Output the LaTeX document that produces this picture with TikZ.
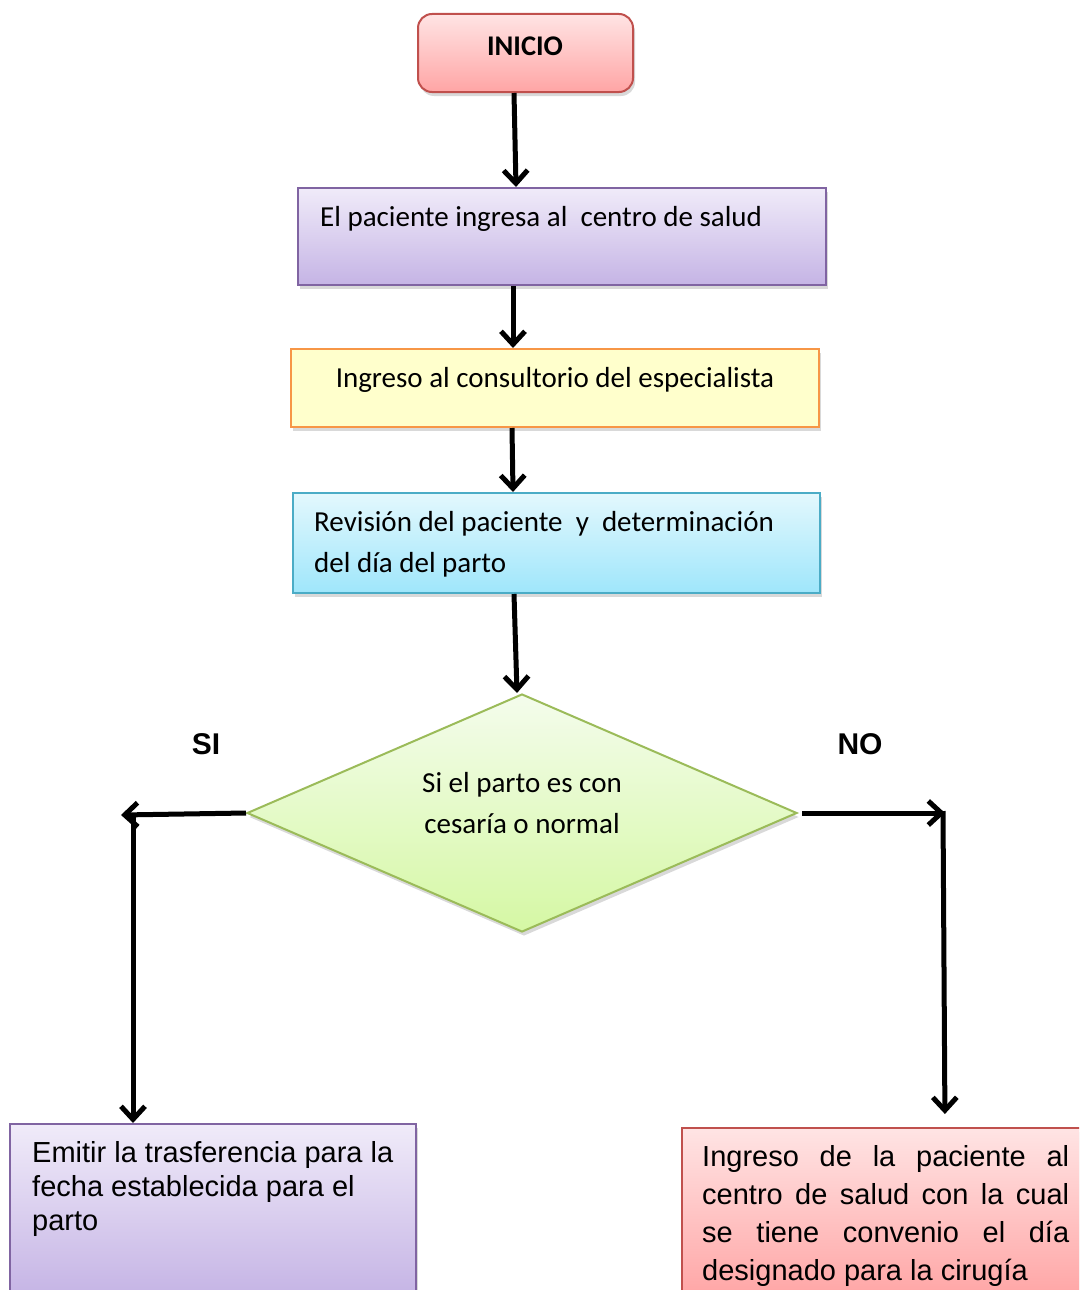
\documentclass[tikz,border=0pt]{standalone}
\usepackage{fontspec}
\setmainfont{Liberation Sans}
\newfontfamily\calibri{Carlito}
\usetikzlibrary{shapes.geometric,arrows.meta,shadows}

\definecolor{rojoborde}{HTML}{C0504D}
\definecolor{rojoarriba}{HTML}{FFE4E4}
\definecolor{rojoabajo}{HTML}{FFA5A5}
\definecolor{moradoborde}{HTML}{8064A2}
\definecolor{moradoarriba}{HTML}{F0EBF9}
\definecolor{moradoabajo}{HTML}{C5B4E5}
\definecolor{naranjaborde}{HTML}{F79646}
\definecolor{amarillofondo}{HTML}{FFFFCC}
\definecolor{azulborde}{HTML}{4BACC6}
\definecolor{azularriba}{HTML}{E3F8FD}
\definecolor{azulabajo}{HTML}{9FE6FB}
\definecolor{verdeborde}{HTML}{9BBB59}
\definecolor{verdearriba}{HTML}{F4FCEC}
\definecolor{verdeabajo}{HTML}{D5F8A4}

\begin{document}
\begin{tikzpicture}[x=1pt,y=-1pt,
    caja/.style={rectangle, line width=2pt, inner sep=0pt,
        drop shadow={shadow xshift=2pt,shadow yshift=-4pt,opacity=0.3}},
    morado/.style={caja, draw=moradoborde, top color=moradoarriba, bottom color=moradoabajo},
    rojo/.style={caja, draw=rojoborde, top color=rojoarriba, bottom color=rojoabajo},
    texto/.style={inner sep=0pt, font=\calibri\fontsize{29}{41}\selectfont},
    textoarial/.style={inner sep=0pt, font=\fontsize{29}{34}\selectfont},
    rotulo/.style={inner sep=0pt, font=\fontsize{30}{36}\selectfont\bfseries},
    flecha/.style={line width=5pt, -{Straight Barb[length=13pt,width=24pt]}}
    ]

\useasboundingbox (0,0) rectangle (1079,1290);
\clip (0,0) rectangle (1079,1290);

% cajas
\node[rojo, rounded corners=14pt, minimum width=215pt, minimum height=78pt] (inicio) at (525.5,53) {};
\node[morado, minimum width=528pt, minimum height=97pt] (paciente) at (562,236.5) {};
\node[caja, draw=naranjaborde, fill=amarillofondo, minimum width=528pt, minimum height=78pt] (consultorio) at (555,388) {};
\node[caja, draw=azulborde, top color=azularriba, bottom color=azulabajo, minimum width=527pt, minimum height=100pt] (revision) at (556.5,543) {};
\node[diamond, line width=2pt, draw=verdeborde, top color=verdearriba, bottom color=verdeabajo, inner sep=0pt,
    minimum width=550pt, minimum height=238pt,
    drop shadow={shadow xshift=2pt,shadow yshift=-4pt,opacity=0.3}] (decision) at (522,813) {};
\node[morado, minimum width=406pt, minimum height=172pt] (traslado) at (213,1210) {};
\node[rojo, minimum width=400pt, minimum height=170pt] (convenio) at (882,1213) {};

% textos
\node[texto, font=\calibri\fontsize{28.5}{34}\selectfont\bfseries, anchor=base] (tinicio) at (525,56) {INICIO};
\node[texto, anchor=base west] (tpaciente) at (320,226) {El paciente ingresa al \ centro de salud};
\node[texto, anchor=base] (tconsultorio) at (555,387) {Ingreso al consultorio del especialista};
\node[texto, anchor=base west, align=left] (trevision) at (314,572) {Revisión del paciente \ y \ determinación\\del día del parto};
\node[texto, anchor=base, align=center] (tdecision) at (522,833) {Si el parto es con\\cesaría o normal};
\node[rotulo] (si) at (206,744) {SI};
\node[rotulo] (no) at (860,744) {NO};
\node[textoarial, anchor=base west, align=left] (ttraslado) at (32,1230) {Emitir la trasferencia para la\\fecha establecida para el\\parto};
\node[textoarial, font=\fontsize{29}{38}\selectfont, anchor=base west, text width=367pt, align=justify] (tconvenio) at (702,1166)
    {Ingreso de la paciente al\linebreak centro de salud con la cual\linebreak se tiene convenio el día\linebreak designado para la cirugía};

\coordinate (siEsq) at (121,815);
\coordinate (siBaja) at (133,813);
\coordinate (noEsq) at (945,813);
\coordinate (noBaja) at (943,811);

% flechas
\draw[flecha] ([xshift=-11.5pt]inicio.south) -- ([xshift=-46pt]paciente.north);
\draw[flecha] ([xshift=-49pt]paciente.south) -- ([xshift=-42pt]consultorio.north);
\draw[flecha] ([xshift=-43pt]consultorio.south) -- ([xshift=-43.5pt]revision.north);
\draw[flecha] ([xshift=-42.5pt]revision.south) -- ([xshift=-5pt]decision.north);
\draw[flecha] (decision.west) -- (siEsq);
\draw[flecha] (siBaja) -- ([xshift=-80pt]traslado.north);
\draw[flecha, shorten <=4pt] (decision.east) -- (noEsq);
\draw[flecha, shorten >=13pt] (noBaja) -- ([xshift=63pt]convenio.north);

\end{tikzpicture}
\end{document}
